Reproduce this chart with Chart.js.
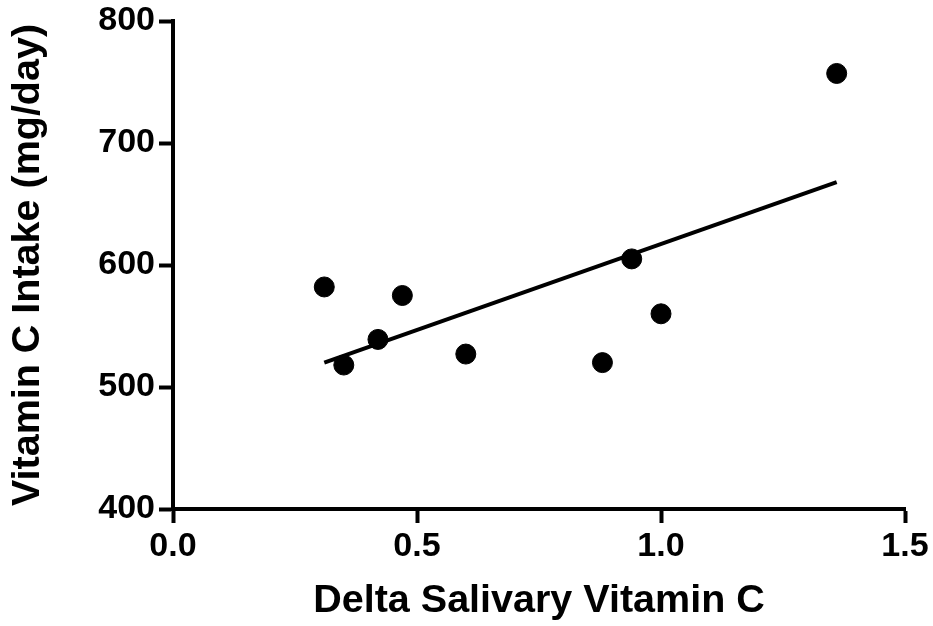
<!DOCTYPE html>
<html>
<head>
<meta charset="utf-8">
<script src="https://cdn.jsdelivr.net/npm/chart.js@4.4.0/dist/chart.umd.min.js"></script>
<style>
  html, body { margin: 0; padding: 0; background: #fff; }
  #wrap { width: 933px; height: 626px; }
</style>
</head>
<body>
<div id="wrap"><canvas id="chart"></canvas></div>
<script>
// measured points
const deltaVitC = [0.31, 0.35, 0.42, 0.47, 0.60, 0.88, 0.94, 1.00, 1.36]
const intake = [582, 518, 539, 575, 527, 520, 605, 560, 757]

// fitted line ends
const fitX = [0.31, 1.36]
const fitY = [520, 668]

const xTicks = [0.0, 0.5, 1.0, 1.5]
const yTicks = [400, 500, 600, 700, 800]

const fontFam = '"Liberation Sans", Arial, sans-serif'

document.addEventListener("DOMContentLoaded", function () {
    const ctx = document.getElementById("chart").getContext("2d")

    const pts = deltaVitC.map((x, i) => ({x: x, y: intake[i]}))
    const fit = fitX.map((x, i) => ({x: x, y: fitY[i]}))

    new Chart(ctx, {
        type: 'scatter',
        data: {
            datasets: [{
                label: 'Data',
                data: pts,
                backgroundColor: '#000',
                borderColor: '#000',
                pointRadius: 10,
                pointHoverRadius: 10
            }, {
                label: 'Fit',
                data: fit,
                showLine: true,
                borderColor: '#000',
                borderWidth: 4,
                pointRadius: 0,
                fill: false
            }]
        },
        options: {
            responsive: true,
            maintainAspectRatio: false,
            animation: false,
            layout: { autoPadding: false, padding: { top: 21, right: 28, left: 0, bottom: 0 } },
            plugins: { legend: { display: false }, tooltip: { enabled: false } },
            scales: {
                x: {
                    type: 'linear',
                    min: 0, max: 1.5,
                    afterBuildTicks: s => { s.ticks = xTicks.map(v => ({value: v})) },
                    afterFit: s => { s.height = 117; s.paddingLeft = 0; s.paddingRight = 0 },
                    border: { color: '#000', width: 4 },
                    grid: { drawOnChartArea: false, drawTicks: true, tickLength: 14, tickColor: '#000', tickWidth: 4 },
                    ticks: {
                        color: '#000',
                        padding: 7,
                        font: { family: fontFam, size: 34, weight: 'bold', lineHeight: 1 },
                        callback: v => v.toFixed(1)
                    },
                    title: {
                        display: true,
                        text: 'Delta Salivary Vitamin C',
                        color: '#000',
                        padding: { top: 0, bottom: 1 },
                        font: { family: fontFam, size: 39.5, weight: 'bold' }
                    }
                },
                y: {
                    type: 'linear',
                    min: 400, max: 800,
                    afterBuildTicks: s => { s.ticks = yTicks.map(v => ({value: v})) },
                    afterFit: s => { s.width = 173; s.paddingTop = 0; s.paddingBottom = 0 },
                    border: { color: '#000', width: 4 },
                    grid: { drawOnChartArea: false, drawTicks: true, tickLength: 14, tickColor: '#000', tickWidth: 4 },
                    ticks: {
                        color: '#000',
                        padding: 4,
                        font: { family: fontFam, size: 34, weight: 'bold', lineHeight: 1 }
                    },
                    title: {
                        display: true,
                        text: 'Vitamin C Intake (mg/day)',
                        color: '#000',
                        padding: { top: 4, bottom: 0 },
                        font: { family: fontFam, size: 39.5, weight: 'bold' }
                    }
                }
            }
        }
    })
})
</script>
</body>
</html>
